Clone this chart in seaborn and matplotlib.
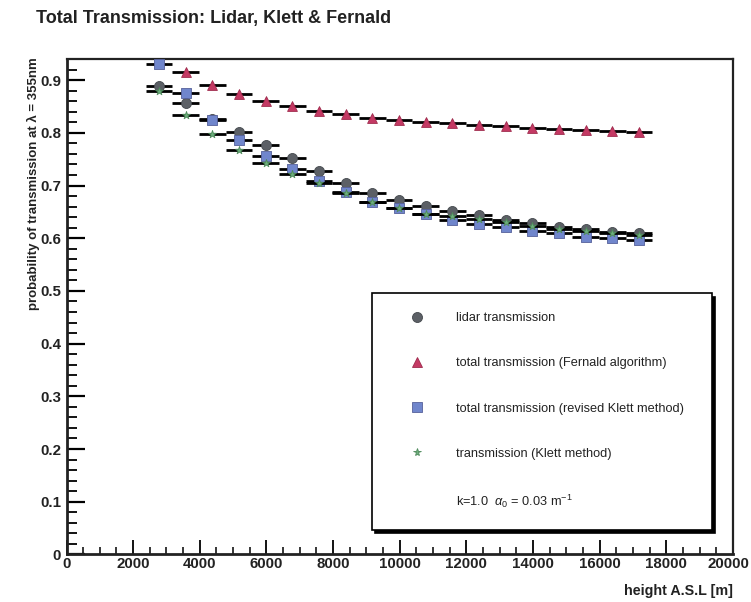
import matplotlib
matplotlib.use("Agg")
import matplotlib.pyplot as plt
from matplotlib.lines import Line2D
from matplotlib.ticker import MultipleLocator
import matplotlib.transforms as mtransforms
import seaborn as sns
import pandas as pd

# ---- data ----
heights = [2775, 3575, 4375, 5175, 5975, 6775, 7575, 8375, 9175, 9975,
           10775, 11575, 12375, 13175, 13975, 14775, 15575, 16375, 17175]
lidar = [0.889, 0.856, 0.826, 0.802, 0.777, 0.753, 0.727, 0.705, 0.686, 0.673,
         0.662, 0.651, 0.644, 0.635, 0.628, 0.622, 0.617, 0.612, 0.609]
fernald_heights = heights[1:]
fernald = [0.915, 0.891, 0.874, 0.860, 0.851, 0.842, 0.835, 0.829, 0.824,
           0.821, 0.818, 0.814, 0.812, 0.809, 0.807, 0.805, 0.803, 0.802]
revised_klett = [0.930, 0.875, 0.825, 0.787, 0.756, 0.732, 0.709, 0.687, 0.669, 0.657,
                 0.645, 0.635, 0.627, 0.621, 0.613, 0.609, 0.603, 0.600, 0.596]
klett = [0.879, 0.834, 0.798, 0.767, 0.742, 0.722, 0.704, 0.686, 0.669, 0.657,
         0.645, 0.643, 0.637, 0.630, 0.624, 0.618, 0.613, 0.609, 0.606]
bin_halfwidth = 400

labels = ["lidar transmission",
          "total transmission (Fernald algorithm)",
          "total transmission (revised Klett method)",
          "transmission (Klett method)"]
note = r"k=1.0  $\alpha_0$ = 0.03 m$^{-1}$"

sns.set_style("ticks")
plt.rcParams["font.family"] = ["Liberation Sans", "DejaVu Sans"]
plt.rcParams["mathtext.fontset"] = "custom"
plt.rcParams["mathtext.rm"] = "Liberation Sans"
plt.rcParams["mathtext.it"] = "Liberation Sans:italic"

fig = plt.figure(figsize=(7.51, 6.02), dpi=100)
W, H = 751, 602
x0, x1, ytop, ybot = 66.5, 733, 59.3, 554.4
ax = fig.add_axes([x0 / W, 1 - ybot / H, (x1 - x0) / W, (ybot - ytop) / H])

series = [
    (heights, lidar, "o", "#5c6066", "#44484d", 52, labels[0]),
    (fernald_heights, fernald, "^", "#c43a64", "#9e2a4c", 50, labels[1]),
    (heights, revised_klett, "s", "#7086cc", "#55609a", 44, labels[2]),
    (heights, klett, "*", "#6db07c", "#4f8a5c", 34, labels[3]),
]

handles = []
for i, (xs, ys, mk, col, ec, s, lab) in enumerate(series):
    ax.errorbar(xs, ys, xerr=bin_halfwidth, fmt="none", ecolor="black",
                elinewidth=2.0, capsize=0, zorder=2 + 2 * i)
    df = pd.DataFrame({"h": xs, "t": ys})
    sns.scatterplot(data=df, x="h", y="t", marker=mk, s=s, color=col,
                    edgecolor=ec, linewidth=0.6, ax=ax, zorder=3 + 2 * i, legend=False)
    handles.append(Line2D([], [], linestyle="none", marker=mk, markersize=s ** 0.5,
                          markerfacecolor=col, markeredgecolor=ec, markeredgewidth=0.6,
                          label=lab))
handles.append(Line2D([], [], linestyle="none", marker=None, label=note))

ax.set_xlim(0, 20000)
ax.set_ylim(0, 0.9395)
ax.xaxis.set_major_locator(MultipleLocator(2000))
ax.xaxis.set_minor_locator(MultipleLocator(500))
ax.yaxis.set_major_locator(MultipleLocator(0.1))
ax.yaxis.set_minor_locator(MultipleLocator(0.02))
ax.yaxis.set_major_formatter(matplotlib.ticker.FuncFormatter(
    lambda v, p: "0" if abs(v) < 1e-9 else f"{v:.1f}"))
ax.tick_params(axis="both", which="both", direction="in", top=False, right=False,
               color="black")
ax.tick_params(axis="y", which="major", length=13, width=1.6, labelsize=10.8, pad=4)
ax.tick_params(axis="y", which="minor", length=7, width=1.3)
ax.tick_params(axis="x", which="major", length=10, width=1.3, labelsize=10.8, pad=2)
ax.tick_params(axis="x", which="minor", length=5, width=1.1)
fig.canvas.draw()
for lab in ax.get_xticklabels() + ax.get_yticklabels():
    lab.set_fontweight("bold")
    lab.set_color("#222222")
# keep the last x tick label inside the canvas
last = [t for t in ax.get_xticklabels() if t.get_text() == "20000"]
for t in last:
    t.set_transform(t.get_transform() + mtransforms.ScaledTranslation(-5 / 100, 0, fig.dpi_scale_trans))
for side in ["left", "bottom"]:
    ax.spines[side].set_linewidth(2.0)
for side in ["top", "right"]:
    ax.spines[side].set_linewidth(1.6)
for sp in ax.spines.values():
    sp.set_color("#222222")
ax.set_xlabel("")
ax.set_ylabel("")

fs_leg = 9.2
leg = ax.legend(handles=handles, loc="upper left",
                bbox_to_anchor=(0.458, 0.0695, 0.5105, 0.4585), mode="expand",
                borderaxespad=0, borderpad=1.5, labelspacing=2.6,
                handlelength=4.03, handletextpad=1.1, fontsize=fs_leg,
                frameon=True, fancybox=False,
                shadow={"color": "black", "alpha": 1.0, "ox": 2.4, "oy": -2.6})
leg.get_frame().set_edgecolor("black")
leg.get_frame().set_linewidth(1.2)
for t in leg.get_texts():
    t.set_color("#222222")

fig.text(36 / W, 1 - 23 / H, "Total Transmission: Lidar, Klett & Fernald",
         ha="left", va="baseline", fontsize=13, fontweight="bold", color="#222222")
fig.text(33 / W, 1 - 57 / H, "probability of transmission at λ = 355nm",
         rotation=90, ha="center", va="top", fontsize=9.5, fontweight="bold",
         color="#222222")
fig.text(733 / W, 1 - 591 / H, "height A.S.L [m]", ha="right", va="center",
         fontsize=10.3, fontweight="bold", color="#222222")

fig.savefig("out.png", dpi=100)
